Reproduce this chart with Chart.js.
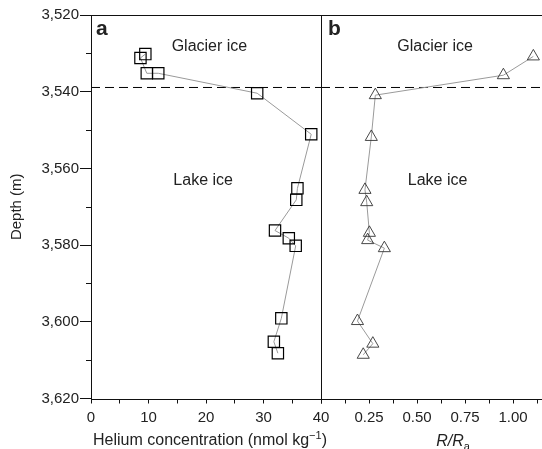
<!DOCTYPE html>
<html>
<head>
<meta charset="utf-8">
<script src="https://cdn.jsdelivr.net/npm/chart.js@4.4.0/dist/chart.umd.min.js"></script>
<style>
    html, body {margin: 0; padding: 0; background: #fff; overflow: hidden; width: 542px; height: 449px;}
    #wrapA {position: absolute; left: 0; top: 0; width: 340px; height: 449px;}
    #wrapB {position: absolute; left: 300px; top: 0; width: 300px; height: 449px;}
</style>
</head>
<body>
<div id="wrapA"><canvas id="chartA" width="340" height="449"></canvas></div>
<div id="wrapB"><canvas id="chartB" width="300" height="449"></canvas></div>
<script>
// panel a: helium concentration vs depth
const heDepth = [3530.2, 3531.2, 3535.2, 3535.2, 3540.4, 3551.1, 3565.2, 3568.2, 3576.2, 3578.2, 3580.2, 3599.1, 3605.2, 3608.2];
const heConc = [9.45, 8.6, 9.7, 11.7, 28.9, 38.3, 35.9, 35.7, 32.0, 34.4, 35.6, 33.1, 31.8, 32.5];

// panel b: R/Ra vs depth
const ratioDepth = [3530.8, 3535.7, 3540.9, 3551.8, 3565.6, 3568.8, 3576.8, 3578.7, 3580.8, 3599.8, 3605.7, 3608.6];
const ratio = [1.106, 0.95, 0.283, 0.262, 0.229, 0.238, 0.252, 0.243, 0.33, 0.19, 0.27, 0.22];

// glacier / lake ice boundary
const boundaryDepth = 3538.9;

// ticks
const depthMajor = [3520, 3540, 3560, 3580, 3600, 3620];
const depthMinor = [3530, 3550, 3570, 3590, 3610];
const heMajor = [0, 10, 20, 30, 40];
const heMinor = [5, 15, 25, 35];
const ratioMajor = [0.25, 0.5, 0.75, 1.0];
const ratioMinor = [0, 0.125, 0.375, 0.625, 0.875, 1.125, 1.25, 1.375];

const FONT = "'Liberation Sans', Arial, Helvetica, sans-serif";
const INK = '#222';

function tickList(major, minor) {
    return major.concat(minor).sort((a, b) => a - b).map(v => ({value: v}));
}

function toPoints(xs, ys) {
    return xs.map((v, i) => ({x: v, y: ys[i]}));
}

// frame, minor depth ticks, panel letter, region labels and x title
function panelPlugin(cfg) {
    return {
        id: 'panel' + cfg.letter,
        afterDraw(chart) {
            const ctx = chart.ctx;
            const a = chart.chartArea;
            const xs = chart.scales.x;
            const ys = chart.scales.y;
            ctx.save();
            ctx.strokeStyle = '#111';
            ctx.lineWidth = 1;
            ctx.strokeRect(Math.round(a.left) + 0.5, Math.round(a.top) + 0.5,
                Math.round(a.right - a.left), Math.round(a.bottom - a.top));

            if (cfg.minorTicks) {
                ctx.beginPath();
                depthMinor.forEach(v => {
                    const y = Math.round(ys.getPixelForValue(v)) + 0.5;
                    ctx.moveTo(a.left - 5, y);
                    ctx.lineTo(a.left, y);
                });
                ctx.stroke();
            }

            ctx.fillStyle = INK;
            ctx.font = 'bold 21px ' + FONT;
            ctx.textAlign = 'left';
            ctx.textBaseline = 'alphabetic';
            ctx.fillText(cfg.letter, a.left + cfg.letterDx, 34.5);

            ctx.font = '16px ' + FONT;
            ctx.textAlign = 'center';
            ctx.textBaseline = 'middle';
            cfg.labels.forEach(l => {
                ctx.fillText(l.text, xs.getPixelForValue(l.x), ys.getPixelForValue(l.y));
            });

            cfg.title(ctx, (a.left + a.right) / 2);
            ctx.restore();
        }
    };
}

function drawHeTitle(ctx, cx) {
    const main = 'Helium concentration (nmol kg';
    ctx.textBaseline = 'alphabetic';
    ctx.textAlign = 'left';
    ctx.font = '16px ' + FONT;
    const w1 = ctx.measureText(main).width;
    const w3 = ctx.measureText(')').width;
    ctx.font = '11px ' + FONT;
    const w2 = ctx.measureText('\u22121').width;
    let x = cx + 4 - (w1 + w2 + w3) / 2;
    const base = 445;
    ctx.font = '16px ' + FONT;
    ctx.fillText(main, x, base);
    x += w1;
    ctx.font = '11px ' + FONT;
    ctx.fillText('\u22121', x, base - 6);
    x += w2;
    ctx.font = '16px ' + FONT;
    ctx.fillText(')', x, base);
}

function drawRatioTitle(ctx, cx) {
    ctx.textBaseline = 'alphabetic';
    ctx.textAlign = 'left';
    ctx.font = 'italic 16px ' + FONT;
    const w1 = ctx.measureText('R/R').width;
    ctx.font = '11px ' + FONT;
    const w2 = ctx.measureText('a').width;
    let x = cx - (w1 + w2) / 2;
    ctx.font = 'italic 16px ' + FONT;
    ctx.fillText('R/R', x, 446);
    ctx.font = '11px ' + FONT;
    ctx.fillText('a', x + w1, 450);
}

function depthAxis(showLabels) {
    return {
        type: 'linear',
        reverse: true,
        min: 3520,
        max: 3620,
        display: showLabels,
        afterBuildTicks: s => { s.ticks = depthMajor.map(v => ({value: v})); },
        afterFit: s => {
            if (showLabels) s.width = 91;
            s.paddingTop = 0;
            s.paddingBottom = 0;
        },
        ticks: {
            autoSkip: false,
            padding: 1,
            color: INK,
            font: {size: 15, family: FONT},
            callback: v => v.toLocaleString('en-US')
        },
        grid: {drawOnChartArea: false, tickLength: 11, color: '#111', tickWidth: 1},
        border: {display: false},
        title: {display: true, text: 'Depth (m)', color: INK, font: {size: 15, family: FONT}, padding: {top: 8, bottom: 0}}
    };
}

function bottomAxis(min, max, major, minor, fmt) {
    return {
        type: 'linear',
        min: min,
        max: max,
        afterBuildTicks: s => { s.ticks = tickList(major, minor); },
        afterFit: s => { s.height = 50.5; s.paddingLeft = 0; s.paddingRight = 0; },
        ticks: {
            autoSkip: false,
            maxRotation: 0,
            padding: 5,
            color: INK,
            font: {size: 15, family: FONT},
            callback: v => major.includes(v) ? fmt(v) : ''
        },
        grid: {drawOnChartArea: false, tickLength: 5, color: '#111', tickWidth: 1},
        border: {display: false}
    };
}

const heChart = new Chart(document.getElementById('chartA'), {
    type: 'scatter',
    data: {
        datasets: [{
            data: toPoints(heConc, heDepth),
            showLine: true,
            borderColor: '#9a9a9a',
            borderWidth: 1,
            pointStyle: 'rect',
            pointRadius: 8,
            pointBorderWidth: 1.2,
            pointBorderColor: '#000',
            pointBackgroundColor: 'rgba(0,0,0,0)'
        }, {
            data: toPoints([0, 40], [boundaryDepth, boundaryDepth]),
            showLine: true,
            borderColor: '#000',
            borderWidth: 1,
            borderDash: [9, 5],
            pointRadius: 0
        }]
    },
    options: {
        responsive: false,
        animation: false,
        layout: {padding: {left: 0, right: 19, top: 15, bottom: 0}},
        plugins: {legend: {display: false}, tooltip: {enabled: false}},
        scales: {
            x: bottomAxis(0, 40, heMajor, heMinor, v => String(v)),
            y: depthAxis(true)
        }
    },
    plugins: [panelPlugin({
        letter: 'a',
        letterDx: 5,
        minorTicks: true,
        labels: [{text: 'Glacier ice', x: 20.6, y: 3528.2}, {text: 'Lake ice', x: 19.5, y: 3563.3}],
        title: drawHeTitle
    })]
});

const ratioChart = new Chart(document.getElementById('chartB'), {
    type: 'scatter',
    data: {
        datasets: [{
            data: toPoints(ratio, ratioDepth),
            showLine: true,
            borderColor: '#9a9a9a',
            borderWidth: 1,
            pointStyle: 'triangle',
            pointRadius: 7,
            pointBorderWidth: 0.9,
            pointBorderColor: '#333',
            pointBackgroundColor: 'rgba(0,0,0,0)'
        }, {
            data: toPoints([0, 1.375], [boundaryDepth, boundaryDepth]),
            showLine: true,
            borderColor: '#000',
            borderWidth: 1,
            borderDash: [9, 5],
            pointRadius: 0
        }]
    },
    options: {
        responsive: false,
        animation: false,
        layout: {padding: {left: 21, right: 15, top: 15, bottom: 0}},
        plugins: {legend: {display: false}, tooltip: {enabled: false}},
        scales: {
            x: bottomAxis(0, 1.375, ratioMajor, ratioMinor, v => v.toFixed(2)),
            y: depthAxis(false)
        }
    },
    plugins: [panelPlugin({
        letter: 'b',
        letterDx: 7,
        minorTicks: false,
        labels: [{text: 'Glacier ice', x: 0.594, y: 3528.2}, {text: 'Lake ice', x: 0.607, y: 3563.3}],
        title: drawRatioTitle
    })]
});
</script>
</body>
</html>
